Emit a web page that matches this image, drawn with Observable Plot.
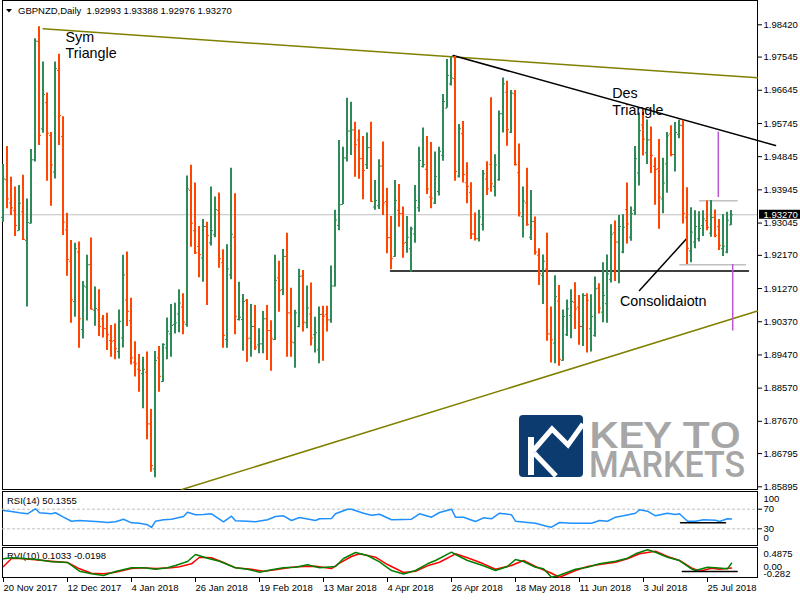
<!DOCTYPE html>
<html><head><meta charset="utf-8">
<script src="https://cdn.jsdelivr.net/npm/d3@7"></script>
<script src="https://cdn.jsdelivr.net/npm/@observablehq/plot@0.6"></script>
<style>
html,body{margin:0;padding:0;background:#fff;}
#chart{position:relative;width:800px;height:600px;overflow:hidden;background:#fff;font-family:"Liberation Sans",Arial,sans-serif;}
.panel{position:absolute;border:1px solid #000;box-sizing:border-box;}
#deco{position:absolute;left:0;top:0;}
</style></head><body>
<div id="chart">
  <div class="panel" style="left:2px;top:0px;width:756px;height:490px"></div>
  <div class="panel" style="left:2px;top:491px;width:756px;height:55px"></div>
  <div class="panel" style="left:2px;top:547px;width:756px;height:31px"></div>
  <svg id="deco" width="800" height="600"></svg>
</div>
<script>
// ---------- data ----------
const symbol = "GBPNZD,Daily";
const priceTicks = [1.98420,1.97545,1.96645,1.95745,1.94845,1.93945,1.93045,1.92170,1.91270,1.90370,1.89470,1.88570,1.87670,1.86795,1.85895];
const dateLabels = ["20 Nov 2017","12 Dec 2017","4 Jan 2018","26 Jan 2018","19 Feb 2018","13 Mar 2018","4 Apr 2018","26 Apr 2018","18 May 2018","11 Jun 2018","3 Jul 2018","25 Jul 2018"];
const dateTickBars = [0,16,32,48,64,80,96,112,128,144,160,176];

const barOpen = [1.9320,1.9422,1.9359,1.9338,1.9284,1.9335,1.9257,1.9304,1.9476,1.9797,1.9560,1.9631,1.9542,1.9443,1.9718,1.9539,1.9286,1.9201,1.9092,1.9226,
1.9016,1.9131,1.9192,1.9068,1.9069,1.9045,1.9018,1.8986,1.8986,1.8956,1.8993,1.9096,1.9040,1.8927,1.8908,1.8896,1.8900,1.8760,1.8638,1.8939,
1.8875,1.8966,1.9004,1.9030,1.9058,1.9077,1.9030,1.9393,1.9284,1.9241,1.9210,1.9295,1.9251,1.9273,1.9339,1.9197,1.8989,1.9164,1.9266,1.9043,
1.9043,1.9095,1.8993,1.9024,1.8974,1.8977,1.9045,1.9013,1.8989,1.9156,1.9124,1.9214,1.9061,1.8980,1.9024,1.9161,1.9034,1.9058,1.9002,1.8961,
1.9057,1.9057,1.9042,1.9134,1.9298,1.9355,1.9481,1.9554,1.9557,1.9530,1.9479,1.9463,1.9509,1.9348,1.9352,1.9459,1.9363,1.9265,1.9214,1.9339,
1.9330,1.9252,1.9235,1.9275,1.9346,1.9458,1.9450,1.9375,1.9359,1.9390,1.9488,1.9616,1.9682,1.9696,1.9432,1.9547,1.9414,1.9387,1.9275,1.9262,
1.9301,1.9424,1.9463,1.9404,1.9422,1.9601,1.9659,1.9551,1.9655,1.9441,1.9322,1.9359,1.9266,1.9309,1.9217,1.9162,1.9180,1.9004,1.8979,1.9093,
1.8932,1.9002,1.9054,1.9090,1.9077,1.9024,1.9108,1.9018,1.9000,1.9128,1.9063,1.9086,1.9151,1.9278,1.9253,1.9226,1.9341,1.9266,1.9339,1.9440,
1.9570,1.9495,1.9530,1.9458,1.9452,1.9370,1.9465,1.9546,1.9490,1.9545,1.9569,1.9320,1.9229,1.9253,1.9262,1.9298,1.9311,1.9277,1.9320,1.9295,
1.9235,1.9226,1.92993];
const barHigh = [1.9463,1.9512,1.9429,1.9402,1.9406,1.9434,1.9370,1.9504,1.9804,1.9837,1.9741,1.9657,1.9550,1.9741,1.9762,1.9593,1.9331,1.9257,1.9250,1.9253,
1.9146,1.9217,1.9264,1.9131,1.9124,1.9054,1.9060,1.9027,1.9031,1.9069,1.9217,1.9226,1.9101,1.8983,1.8948,1.8941,1.8955,1.8799,1.8956,1.8970,
1.8977,1.9047,1.9084,1.9087,1.9124,1.9113,1.9432,1.9461,1.9413,1.9295,1.9314,1.9307,1.9402,1.9375,1.9386,1.9232,1.9246,1.9453,1.9384,1.9144,
1.9111,1.9097,1.9084,1.9081,1.9018,1.9065,1.9081,1.9040,1.9217,1.9201,1.9233,1.9277,1.9128,1.9068,1.9179,1.9176,1.9134,1.9142,1.9049,1.9077,
1.9079,1.9079,1.9188,1.9339,1.9528,1.9510,1.9643,1.9632,1.9578,1.9557,1.9539,1.9549,1.9578,1.9420,1.9476,1.9524,1.9399,1.9322,1.9420,1.9409,
1.9348,1.9322,1.9293,1.9406,1.9510,1.9562,1.9539,1.9523,1.9497,1.9510,1.9653,1.9748,1.9754,1.9756,1.9572,1.9580,1.9468,1.9414,1.9332,1.9339,
1.9447,1.9471,1.9644,1.9490,1.9608,1.9698,1.9689,1.9664,1.9664,1.9519,1.9402,1.9453,1.9393,1.9321,1.9235,1.9218,1.9277,1.9077,1.9162,1.9135,
1.9069,1.9096,1.9124,1.9143,1.9108,1.9113,1.9113,1.9110,1.9158,1.9140,1.9197,1.9218,1.9300,1.9310,1.9325,1.9327,1.9413,1.9348,1.9512,1.9603,
1.9604,1.9584,1.9565,1.9481,1.9531,1.9480,1.9550,1.9568,1.9577,1.9584,1.9583,1.9400,1.9346,1.9338,1.9335,1.9338,1.9364,1.9366,1.9340,1.9314,
1.9328,1.9334,1.93388];
const barLow = [1.9307,1.9343,1.9325,1.9268,1.9283,1.9257,1.9077,1.9302,1.9470,1.9515,1.9548,1.9418,1.9350,1.9424,1.9515,1.9271,1.9160,1.9033,1.9049,1.8965,
1.8990,1.9039,1.9069,1.9025,1.8997,1.8993,1.8959,1.8941,1.8934,1.8936,1.8966,1.9024,1.8920,1.8887,1.8846,1.8801,1.8717,1.8629,1.8614,1.8846,
1.8873,1.8934,1.8941,1.9004,1.9007,1.9002,1.9022,1.9239,1.9219,1.9156,1.9144,1.9081,1.9242,1.9265,1.9182,1.8965,1.8965,1.9151,1.9002,1.9039,
1.8957,1.8927,1.8941,1.8959,1.8950,1.8950,1.8932,1.8903,1.8986,1.9063,1.9108,1.8941,1.8941,1.8911,1.9021,1.9009,1.9018,1.8971,1.8952,1.8923,
1.8930,1.9009,1.9033,1.9131,1.9284,1.9355,1.9470,1.9488,1.9429,1.9423,1.9368,1.9450,1.9361,1.9339,1.9341,1.9325,1.9221,1.9178,1.9212,1.9293,
1.9209,1.9223,1.9171,1.9250,1.9334,1.9454,1.9382,1.9343,1.9355,1.9378,1.9472,1.9616,1.9676,1.9418,1.9427,1.9413,1.9357,1.9260,1.9256,1.9253,
1.9283,1.9379,1.9388,1.9375,1.9418,1.9549,1.9513,1.9547,1.9459,1.9321,1.9264,1.9296,1.9257,1.9217,1.9135,1.9084,1.8984,1.8925,1.8923,1.8916,
1.8930,1.8997,1.8991,1.9016,1.8973,1.8970,1.8952,1.8955,1.8995,1.9058,1.9034,1.9033,1.9142,1.9146,1.9140,1.9221,1.9248,1.9255,1.9325,1.9405,
1.9486,1.9463,1.9439,1.9353,1.9288,1.9330,1.9385,1.9484,1.9443,1.9533,1.9302,1.9192,1.9197,1.9235,1.9253,1.9268,1.9284,1.9266,1.9265,1.9230,
1.9214,1.9221,1.92976];
const barClose = [1.9424,1.9370,1.9346,1.9298,1.9358,1.9260,1.9306,1.9476,1.9798,1.9542,1.9653,1.9548,1.9462,1.9723,1.9596,1.9307,1.9206,1.9096,1.9235,1.9045,
1.9134,1.9191,1.9071,1.9073,1.9024,1.9019,1.9002,1.8984,1.8964,1.9038,1.9164,1.9065,1.8939,1.8923,1.8905,1.8908,1.8760,1.8647,1.8932,1.8889,
1.8975,1.9011,1.9027,1.9034,1.9088,1.9036,1.9397,1.9304,1.9224,1.9219,1.9295,1.9271,1.9284,1.9341,1.9208,1.9000,1.9180,1.9274,1.9052,1.9049,
1.9092,1.8991,1.9024,1.8968,1.8977,1.9045,1.9013,1.8991,1.9149,1.9122,1.9214,1.9061,1.8982,1.9061,1.9160,1.9036,1.9074,1.8993,1.9007,1.9057,
1.9052,1.9042,1.9134,1.9313,1.9354,1.9481,1.9554,1.9557,1.9517,1.9479,1.9447,1.9509,1.9363,1.9366,1.9459,1.9359,1.9265,1.9208,1.9366,1.9330,
1.9250,1.9266,1.9289,1.9366,1.9474,1.9463,1.9397,1.9372,1.9431,1.9499,1.9634,1.9705,1.9698,1.9444,1.9560,1.9436,1.9404,1.9275,1.9262,1.9321,
1.9438,1.9397,1.9411,1.9462,1.9601,1.9682,1.9558,1.9657,1.9463,1.9332,1.9364,1.9301,1.9309,1.9226,1.9167,1.9201,1.9004,1.8988,1.9105,1.8935,
1.9051,1.9072,1.9092,1.9072,1.9024,1.9108,1.9095,1.9051,1.9126,1.9074,1.9108,1.9167,1.9274,1.9253,1.9295,1.9293,1.9302,1.9330,1.9479,1.9555,
1.9532,1.9530,1.9488,1.9450,1.9375,1.9413,1.9541,1.9490,1.9550,1.9570,1.9331,1.9236,1.9280,1.9295,1.9290,1.9316,1.9293,1.9320,1.9271,1.9244,
1.9242,1.9312,1.93270];

const rsiBar = [0,2,4,6,8,9,12,13,15,17,19,22,24,26,28,30,32,34,36,37,38,40,42,45,46,48,50,52,55,57,58,61,63,66,68,70,72,74,78,79,82,83,86,87,90,92,94,97,100,102,104,107,109,112,113,115,118,120,122,124,127,128,131,133,136,137,139,142,144,147,149,151,153,155,158,159,161,163,166,168,169,171,173,175,178,179,181,182];
const rsiVal = [67.3,65.3,62.7,60.6,70.8,62.7,60.6,62.7,53.7,45.5,46.9,45.5,44.3,42.9,44.3,49.6,42.2,41.4,38.2,32.7,45.5,48.4,49.6,55.1,63.9,58.6,59.2,60.6,44.3,55.7,46.3,45.5,44.3,48.4,55.1,56.5,46.9,53.1,46.9,50.4,51.0,60.6,70.0,70.0,61.8,57.8,59.8,48.4,49.0,49.6,60.6,53.7,63.3,70.0,53.7,53.7,44.9,52.4,50.4,61.8,58.6,45.5,42.9,41.4,34.7,33.3,42.9,41.4,41.4,41.4,46.9,45.5,53.7,56.5,61.8,68.8,65.9,56.5,61.8,59.2,60.6,45.5,45.5,48.4,47.6,44.9,50.4,50.1355];
const rsiLevels = [70,30];

const rviBar = [0,2,8,12,16,19,22,25,28,32,35,38,41,43,46,48,51,54,58,61,64,67,70,73,76,79,83,85,88,91,94,97,100,103,106,108,112,113,116,120,123,126,128,130,133,135,137,139,143,146,149,153,156,158,161,163,166,169,172,173,176,178,181,182];
const rviVal = [0.2148,0.2400,0.2047,0.1390,0.1213,-0.0984,-0.1640,-0.2070,-0.1060,-0.0125,-0.0125,-0.0479,-0.0125,0.0456,0.1466,0.3234,0.2299,0.1542,-0.0125,-0.0479,-0.1236,-0.0630,-0.0125,0.0027,0.0632,-0.0125,0.0203,0.2223,0.3739,0.2981,0.1390,-0.0807,-0.1700,-0.0807,0.0885,0.1718,0.3814,0.3234,0.1718,0.0380,-0.0807,0.0203,0.1971,0.1466,0.0027,-0.0378,-0.2499,-0.1994,-0.0479,0.0027,0.0885,0.1542,0.2299,0.3410,0.4420,0.3814,0.2552,0.1718,-0.0378,-0.0807,0.0027,-0.0125,-0.0378,0.1033];
const sigBar = [0,2,4,8,12,16,19,22,25,28,32,35,38,42,44,47,49,52,55,58,62,65,68,72,75,78,82,84,87,89,93,96,100,103,106,109,113,116,120,123,127,130,133,137,139,143,146,149,153,156,159,163,166,169,172,174,177,179,182];
const sigVal = [0.0203,0.2223,0.2223,0.1895,0.1542,0.1213,-0.0378,-0.1489,-0.1640,-0.1236,-0.0302,-0.0125,-0.0302,-0.0125,0.0128,0.0885,0.2552,0.2400,0.1213,-0.0125,-0.0479,-0.0984,-0.0630,0.0027,0.0203,0.0279,-0.0302,0.1037,0.2729,0.3410,0.2552,0.0708,-0.1300,-0.0984,0.0380,0.1289,0.3410,0.2400,0.0885,-0.0479,0.0456,0.1718,0.0203,-0.1489,-0.2499,-0.0807,0.0203,0.0708,0.1289,0.2148,0.3410,0.4067,0.2729,0.1718,-0.0125,-0.0984,-0.0226,-0.0479,-0.0198];
const rviLabels = [0.4875, 0.00, -0.282];

// drawn objects (bar index, price)
const symUpperBar = [9.9, 188.5],   symUpperPrice = [1.98312, 1.96983];
const symLowerBar = [44.6, 188.5],  symLowerPrice = [1.85822, 1.90661];
const desBar = [112.4, 193],        desPrice = [1.97588, 1.95148];
const supportBar = [96.75, 186.25], supportPrice = 1.91746;
const pointerBar = [159, 170.75],   pointerPrice = [1.91217, 1.92618];
const rangeTopBar = [174, 183.4],   rangeTopPrice = 1.93649;
const rangeBotBar = [169.1, 185.5], rangeBotPrice = 1.91914;
const vlineBar = [178.7, 182.3], vlineHigh = [1.95509, 1.91922], vlineLow = [1.93738, 1.90118];
const noteText = ["Sym\nTriangle", "Des\nTriangle", "Consolidaiotn"];
const noteBar = [15.5, 152.2, 154.1];
const notePrice = [1.98285, 1.96756, 1.91108];
const rsiMarkBar = [169.25, 180.5], rsiMarkVal = 42.2;
const rviMarkBar = [169.7, 183.4],  rviMarkVal = -0.1059;

// ---------- build ----------
const up = "#2e8b57", down = "#ff4500";
const FONT = "'Liberation Sans', Arial, sans-serif";
const bars = barOpen.map((o, i) => ({i, open: o, high: barHigh[i], low: barLow[i], close: barClose[i]}));
const last = bars[bars.length - 1];
const barColor = d => d.close >= d.open ? up : down;
const seg = (xs, ys) => xs.map((x, k) => ({x, y: Array.isArray(ys) ? ys[k] : ys}));
const xOpt = {domain: [0, 188.5], range: [3, 757], axis: null};
const svgStyle = {position: "absolute", left: "0px", top: "0px", background: "transparent", overflow: "visible", fontFamily: FONT, fontSize: "9.5px", color: "#000"};
const base = {width: 800, height: 600, marginLeft: 3, marginRight: 43, marginTop: 0, marginBottom: 0, style: svgStyle, color: {type: "identity"}};
const chart = document.getElementById("chart");

const mainPlot = Plot.plot({
  ...base,
  x: xOpt,
  y: {domain: [1.85895, 1.98420], range: [486.3, 24.3], axis: null},
  marks: [
    Plot.ruleY([last.close], {x1: -0.25, x2: 188.5, stroke: "#c0c0c0"}),
    Plot.line(seg(symUpperBar, symUpperPrice), {x: "x", y: "y", stroke: "#808000"}),
    Plot.line(seg(symLowerBar, symLowerPrice), {x: "x", y: "y", stroke: "#808000"}),
    Plot.line(seg(desBar, desPrice), {x: "x", y: "y", stroke: "#000"}),
    Plot.line(seg(supportBar, supportPrice), {x: "x", y: "y", stroke: "#000", strokeWidth: 1.5}),
    Plot.line(seg(pointerBar, pointerPrice), {x: "x", y: "y", stroke: "#000"}),
    Plot.line(seg(rangeTopBar, rangeTopPrice), {x: "x", y: "y", stroke: "#c0c0c0", strokeWidth: 1.5}),
    Plot.line(seg(rangeBotBar, rangeBotPrice), {x: "x", y: "y", stroke: "#c0c0c0", strokeWidth: 1.5}),
    Plot.ruleX(bars, {x: "i", y1: "low", y2: "high", stroke: barColor, strokeWidth: 2, dx: -0.5}),
    Plot.ruleY(bars, {y: "open", x1: d => d.i - 0.5, x2: "i", stroke: barColor}),
    Plot.ruleY(bars, {y: "close", x1: "i", x2: d => d.i + 0.5, stroke: barColor}),
    Plot.ruleX(vlineBar.map((b, k) => ({b, h: vlineHigh[k], l: vlineLow[k]})), {x: "b", y1: "l", y2: "h", stroke: "#ba55d3", strokeWidth: 1.5}),
    Plot.text(noteText.map((t, k) => ({t, x: noteBar[k], y: notePrice[k]})), {x: "x", y: "y", text: "t", textAnchor: "start", lineAnchor: "top", lineHeight: 1.17, fontSize: 14.3, fontFamily: FONT, fill: "#000"}),
    Plot.axisY({anchor: "right", ticks: priceTicks, tickFormat: d => d.toFixed(5), tickSize: 4, tickPadding: 2, label: null}),
    Plot.rect([last.close], {x1: 189, x2: 200, y1: d => d, y2: d => d, insetTop: -4.5, insetBottom: -4.5, fill: "#000"}),
    Plot.text([last.close], {x: 190, y: d => d, text: d => d.toFixed(5), textAnchor: "start", fill: "#fff"})
  ]
});
chart.appendChild(mainPlot);

const rsiData = rsiBar.map((b, k) => ({b, v: rsiVal[k]}));
const rsiPlot = Plot.plot({
  ...base,
  x: xOpt,
  y: {domain: [0, 100], range: [543, 494], axis: null},
  marks: [
    Plot.ruleY(rsiLevels, {x1: -0.25, x2: 188.5, stroke: "#c0c0c0", strokeDasharray: "3,2"}),
    Plot.line(rsiData, {x: "b", y: "v", stroke: "#1e90ff"}),
    Plot.line(seg(rsiMarkBar, rsiMarkVal), {x: "x", y: "y", stroke: "#000", strokeWidth: 1.5}),
    Plot.axisY({anchor: "right", ticks: rsiLevels, tickSize: 4, tickPadding: 2, label: null}),
    Plot.text([100], {x: 190, y: d => d, text: d => String(d), textAnchor: "start", dy: 4}),
    Plot.text([0], {x: 190, y: d => d, text: d => String(d), textAnchor: "start", dy: -6})
  ]
});
chart.appendChild(rsiPlot);

const rviData = rviBar.map((b, k) => ({b, v: rviVal[k]}));
const sigData = sigBar.map((b, k) => ({b, v: sigVal[k]}));
const rviPlot = Plot.plot({
  ...base,
  marginBottom: 22,
  x: xOpt,
  y: {domain: [-0.282, 0.4875], range: [578, 547.5], axis: null},
  marks: [
    Plot.line(sigData, {x: "b", y: "v", stroke: "#ff0000"}),
    Plot.line(rviData, {x: "b", y: "v", stroke: "#008000"}),
    Plot.line(seg(rviMarkBar, rviMarkVal), {x: "x", y: "y", stroke: "#000", strokeWidth: 1.5}),
    Plot.text([rviLabels[0]], {x: 190, y: d => d, text: d => String(d), textAnchor: "start", dy: 6}),
    Plot.text([rviLabels[1]], {x: 190, y: d => d, text: d => d.toFixed(2), textAnchor: "start"}),
    Plot.text([rviLabels[2]], {x: 190, y: d => d, text: d => String(d), textAnchor: "start", dy: -5}),
    Plot.axisX({anchor: "bottom", ticks: dateTickBars, tickFormat: d => dateLabels[dateTickBars.indexOf(d)], tickSize: 4, tickPadding: 2, textAnchor: "start", label: null})
  ]
});
chart.appendChild(rviPlot);

// ---------- header, indicator titles, logo ----------
const deco = d3.select("#deco");
deco.append("polygon").attr("points", "6,9 12,9 9,12.5").attr("fill", "#000");
const txt = (x, y, s, size) => deco.append("text").attr("x", x).attr("y", y)
  .attr("font-family", FONT).attr("font-size", size).attr("fill", "#000")
  .style("white-space", "pre").text(s);
const f5 = v => v.toFixed(5);
txt(18, 14, `${symbol}  ${f5(last.open)} ${f5(last.high)} ${f5(last.low)} ${f5(last.close)}`, 9.5);
txt(7, 504, `RSI(14) ${rsiVal[rsiVal.length - 1].toFixed(4)}`, 9.5);
txt(7, 559, `RVI(10) ${rviVal[rviVal.length - 1].toFixed(4)} ${sigVal[sigVal.length - 1].toFixed(4)}`, 9.5);

const logo = deco.append("g");
logo.append("rect").attr("x", 519).attr("y", 415).attr("width", 64).attr("height", 62).attr("rx", 4).attr("fill", "#0c3c6f");
logo.append("path").attr("d", "M531 437 V475").attr("stroke", "#fff").attr("stroke-width", 6).attr("fill", "none");
logo.append("path").attr("d", "M533 451 L552 429 L568 445 L583 424").attr("stroke", "#fff").attr("stroke-width", 5).attr("fill", "none");
logo.append("path").attr("d", "M534 453 L556 476").attr("stroke", "#fff").attr("stroke-width", 5).attr("fill", "none");
logo.append("text").attr("x", 589).attr("y", 448).attr("font-family", "Roboto, 'Liberation Sans', sans-serif").attr("font-weight", 500)
  .attr("font-size", 37).attr("fill", "#a6a6a6").attr("textLength", 152).attr("lengthAdjust", "spacingAndGlyphs").text("KEY TO");
logo.append("text").attr("x", 589).attr("y", 477).attr("font-family", "Roboto, 'Liberation Sans', sans-serif").attr("font-weight", 500)
  .attr("font-size", 37).attr("fill", "#a6a6a6").attr("textLength", 156).attr("lengthAdjust", "spacingAndGlyphs").text("MARKETS");
</script>
</body></html>
